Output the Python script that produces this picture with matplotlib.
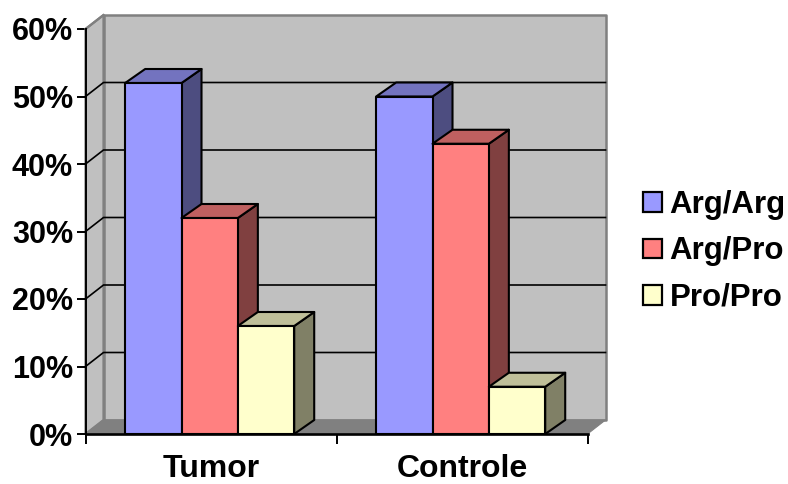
import matplotlib
matplotlib.use("Agg")
import matplotlib.pyplot as plt
from matplotlib.patches import Polygon, Patch

plt.rcParams['font.family'] = ['Liberation Sans', 'DejaVu Sans']

categories = ["Tumor", "Controle"]
series_names = ["Arg/Arg", "Arg/Pro", "Pro/Pro"]
arg_arg = [52, 50]
arg_pro = [32, 43]
pro_pro = [16, 7]
y_ticks = [0, 10, 20, 30, 40, 50, 60]

series = [arg_arg, arg_pro, pro_pro]
front_colors = ["#9999FF", "#FF8080", "#FFFFCC"]
side_colors = ["#4D4D80", "#804040", "#808066"]
top_colors = ["#7373BF", "#BF6060", "#BFBF99"]

W, H = 788, 484
fig = plt.figure(figsize=(W / 100, H / 100), dpi=100, facecolor="white")
L, R, B, T = 85.5, 587.5, 434, 29
ax = fig.add_axes([L / W, 1 - B / H, (R - L) / W, (B - T) / H])
ax.set_xlim(0, 2)
ax.set_ylim(0, 60)
ax.patch.set_visible(False)

# depth of the 3-D box, converted from pixels to data units
dx = 18 / ((R - L) / 2)
dy = 14 / ((B - T) / 60)
bar_dx = 20 / ((R - L) / 2)
lw = 1.5
grey = "#808080"


def poly(pts, fc, z, ec="none", lw_=0.0):
    ax.add_patch(Polygon(pts, closed=True, facecolor=fc, edgecolor=ec, linewidth=lw_,
                         zorder=z, clip_on=False, joinstyle="round"))


top = y_ticks[-1]
# side wall, back wall, floor
poly([(0, 0), (dx, dy), (dx, top + dy), (0, top)], "#C0C0C0", 1, grey, 1.6)
poly([(dx, dy), (2 + dx, dy), (2 + dx, top + dy), (dx, top + dy)], "#C0C0C0", 1, grey, 1.8)
poly([(0, 0), (2, 0), (2 + dx, dy), (dx, dy)], grey, 1.5, grey, 0.8)

# gridlines on the walls
for v in y_ticks[1:-1]:
    ax.plot([0, dx, 2 + dx], [v, v + dy, v + dy], color="black", lw=1.2, zorder=2, clip_on=False)
ax.plot([0, dx], [top, top + dy], color=grey, lw=1.6, zorder=2, clip_on=False)

# bars
bar_w = 0.2245
start = 0.158
z = 3
for c in range(len(categories)):
    for s, vals in enumerate(series):
        x0 = c + start + s * bar_w
        x1 = x0 + bar_w
        v = vals[c]
        poly([(x1, 0), (x1 + bar_dx, dy), (x1 + bar_dx, v + dy), (x1, v)], side_colors[s], z, "black", lw)
        poly([(x0, v), (x1, v), (x1 + bar_dx, v + dy), (x0 + bar_dx, v + dy)], top_colors[s], z, "black", lw)
        poly([(x0, 0), (x1, 0), (x1, v), (x0, v)], front_colors[s], z, "black", lw)
        z += 0.1

# axes
for name in ("top", "right"):
    ax.spines[name].set_visible(False)
ax.spines["left"].set_linewidth(1.4)
ax.spines["bottom"].set_linewidth(1.9)
ax.spines["left"].set_zorder(20)
ax.spines["bottom"].set_zorder(20)

ax.set_yticks(y_ticks)
ax.set_yticklabels([f"{v}%" for v in y_ticks], fontsize=22, fontweight="bold")
ax.tick_params(axis="y", length=6.5, width=1.4, pad=2.5)
ax.set_xticks([0, 1, 2])
ax.set_xticklabels([])
ax.tick_params(axis="x", which="major", length=7, width=1.4)
ax.set_xticks([0.5, 1.5], minor=True)
ax.set_xticklabels(categories, minor=True, fontsize=23, fontweight="bold")
ax.tick_params(axis="x", which="minor", length=0, pad=14.5)

handles = [Patch(facecolor=f, edgecolor="black", linewidth=1.6) for f in front_colors]
fig.legend(handles, series_names, loc="center left", bbox_to_anchor=(643 / W, 1 - 251.5 / H),
           frameon=False, prop={"size": 22.5, "weight": "bold"},
           handlelength=0.6, handleheight=0.6, handletextpad=0.25,
           labelspacing=0.515, borderpad=0, borderaxespad=0)

fig.savefig("out.png", dpi=100, facecolor="white")
